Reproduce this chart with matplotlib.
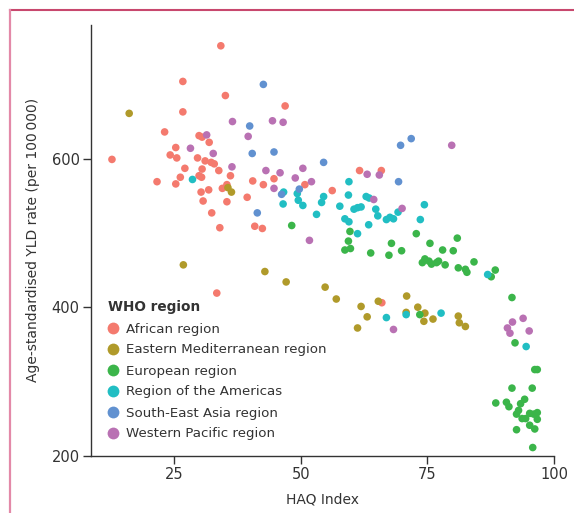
import matplotlib
matplotlib.use("Agg")
import matplotlib.pyplot as plt
from matplotlib.lines import Line2D

plt.rcParams['font.family'] = ['DejaVu Sans']

regions = ["African region", "Eastern Mediterranean region", "European region",
           "Region of the Americas", "South-East Asia region", "Western Pacific region"]
colors = ["#F47A6E", "#B09A2A", "#3BB54A", "#21BEC3", "#6191D0", "#B971B3"]

african_x = [34.2, 26.7, 35.1, 46.9, 26.7, 23.1, 29.9, 30.5, 31.9, 25.3, 24.2, 25.5, 29.6, 12.7,
             31.1, 32.3, 32.9, 27.1, 30.5, 33.8, 26.2, 29.9, 30.4, 36.1, 40.5, 44.7, 21.6, 25.3,
             42.6, 50.8, 35.4, 34.5, 31.8, 30.3, 30.7, 35.4, 39.4, 32.4, 34.0, 40.9, 42.4, 61.6,
             65.9, 56.2, 33.4, 66.0]
african_y = [752, 704, 685, 671, 663, 636, 631, 629, 622, 615, 605, 601, 601, 599,
             597, 595, 593, 587, 586, 584, 575, 577, 575, 577, 570, 573, 569, 566,
             565, 565, 565, 560, 558, 555, 543, 542, 548, 527, 507, 509, 506, 584,
             584, 557, 419, 406]

emed_x = [16.1, 35.6, 36.3, 26.8, 42.9, 47.1, 54.8, 57.0, 61.9, 65.3, 70.9, 63.1, 61.2, 70.8,
          73.1, 74.5, 74.3, 76.1, 81.1, 81.3, 82.5]
emed_y = [661, 561, 555, 457, 448, 434, 427, 411, 401, 408, 415, 387, 372, 393,
          400, 392, 381, 384, 388, 379, 374]

euro_x = [48.2, 59.7, 59.4, 58.7, 59.8, 63.8, 67.4, 67.9, 69.9, 72.8, 75.5, 78.0, 80.1, 80.9,
          74.0, 74.5, 75.3, 75.8, 76.8, 77.2, 78.5, 81.1, 82.5, 82.8, 84.2, 87.6, 88.4, 91.7,
          73.5, 92.3, 96.2, 96.7, 91.7, 95.7, 88.5, 90.6, 91.1, 93.4, 94.2, 93.0, 92.6, 93.7,
          94.4, 95.2, 96.0, 96.7, 96.7, 95.2, 96.2, 92.6, 95.8]
euro_y = [510, 502, 489, 477, 479, 473, 470, 486, 476, 499, 486, 477, 476, 493,
          460, 465, 462, 458, 460, 462, 457, 453, 451, 447, 461, 441, 450, 413,
          390, 352, 316, 316, 291, 291, 271, 272, 266, 270, 276, 261, 256, 250,
          250, 257, 256, 258, 249, 241, 236, 235, 211]

amer_x = [28.6, 46.6, 49.3, 49.5, 46.5, 50.4, 54.5, 54.1, 53.1, 59.5, 59.4, 57.7, 62.9, 63.5,
          60.5, 61.2, 61.9, 64.8, 74.4, 69.2, 65.2, 58.7, 59.5, 66.9, 67.6, 68.3, 73.6, 63.4,
          61.2, 86.9, 66.9, 70.8, 77.7, 94.5]
amer_y = [572, 555, 553, 544, 539, 537, 549, 541, 525, 569, 551, 536, 549, 547,
          532, 534, 535, 532, 538, 528, 523, 519, 515, 518, 521, 519, 518, 511,
          499, 444, 386, 390, 392, 347]

sea_x = [42.6, 39.9, 40.4, 44.7, 46.2, 49.7, 41.4, 54.5, 71.8, 69.7, 69.3]
sea_y = [700, 644, 607, 609, 552, 559, 527, 595, 627, 618, 569]

wpac_x = [31.4, 28.2, 32.7, 36.5, 44.4, 46.5, 39.6, 36.4, 43.1, 45.9, 50.4, 48.9, 52.1, 44.7,
          51.7, 63.1, 65.5, 79.8, 64.4, 70.0, 68.3, 91.8, 93.9, 90.8, 91.3, 95.1]
wpac_y = [632, 614, 607, 650, 651, 649, 630, 589, 584, 581, 587, 574, 569, 560,
          490, 579, 578, 618, 545, 533, 370, 380, 385, 372, 365, 368]

series = [(african_x, african_y), (emed_x, emed_y), (euro_x, euro_y),
          (amer_x, amer_y), (sea_x, sea_y), (wpac_x, wpac_y)]

x_ticks = [25, 50, 75, 100]
y_ticks = [200, 400, 600]

fig = plt.figure(figsize=(5.74, 5.13), dpi=100)
ax = fig.add_axes([90.7/574, 1 - 455.7/513, (554 - 90.7)/574, (455.7 - 25)/513])

for (xs, ys), c in zip(series, colors):
    ax.scatter(xs, ys, s=30, color=c, edgecolors='none', zorder=3)

ax.set_xlim(8.5, 100)
ax.set_ylim(200, 780)
ax.set_xticks(x_ticks)
ax.set_yticks(y_ticks)
for s in ['top', 'right']:
    ax.spines[s].set_visible(False)
for s in ['left', 'bottom']:
    ax.spines[s].set_color('#333333')
    ax.spines[s].set_linewidth(1.0)
ax.tick_params(axis='both', direction='out', length=6, width=1.0, color='#333333',
               labelcolor='#333333', labelsize=10.5, pad=2)

ax.set_xlabel("HAQ Index", fontsize=10, color='#333333', labelpad=8)
ax.set_ylabel("Age-standardised YLD rate (per 100\u2009000)", fontsize=10, color='#333333', labelpad=8)

handles = [Line2D([0], [0], marker='o', linestyle='none', markersize=8.5,
                  markerfacecolor=c, markeredgecolor='none') for c in colors]
leg = ax.legend(handles, regions, title="WHO region", loc='upper left',
                bbox_to_anchor=((107.7 - 90.7)/463.3, (455.7 - 300.5)/430.7),
                frameon=False, fontsize=9.6, title_fontsize=9.8, handletextpad=0.58,
                labelspacing=0.6, borderpad=0, borderaxespad=0, handlelength=0.8,
                alignment='left')
leg.get_title().set_fontweight('bold')
leg.get_title().set_color('#333333')
for t in leg.get_texts():
    t.set_color('#333333')

# pink frame (top and left)
fig.add_artist(Line2D([10/574, 1], [1 - 9.5/513, 1 - 9.5/513], transform=fig.transFigure,
                      color='#C8486E', linewidth=1.5))
fig.add_artist(Line2D([10/574, 10/574], [0, 1 - 9.5/513], transform=fig.transFigure,
                      color='#E389A8', linewidth=1.6))

fig.savefig("out.png", dpi=100)
